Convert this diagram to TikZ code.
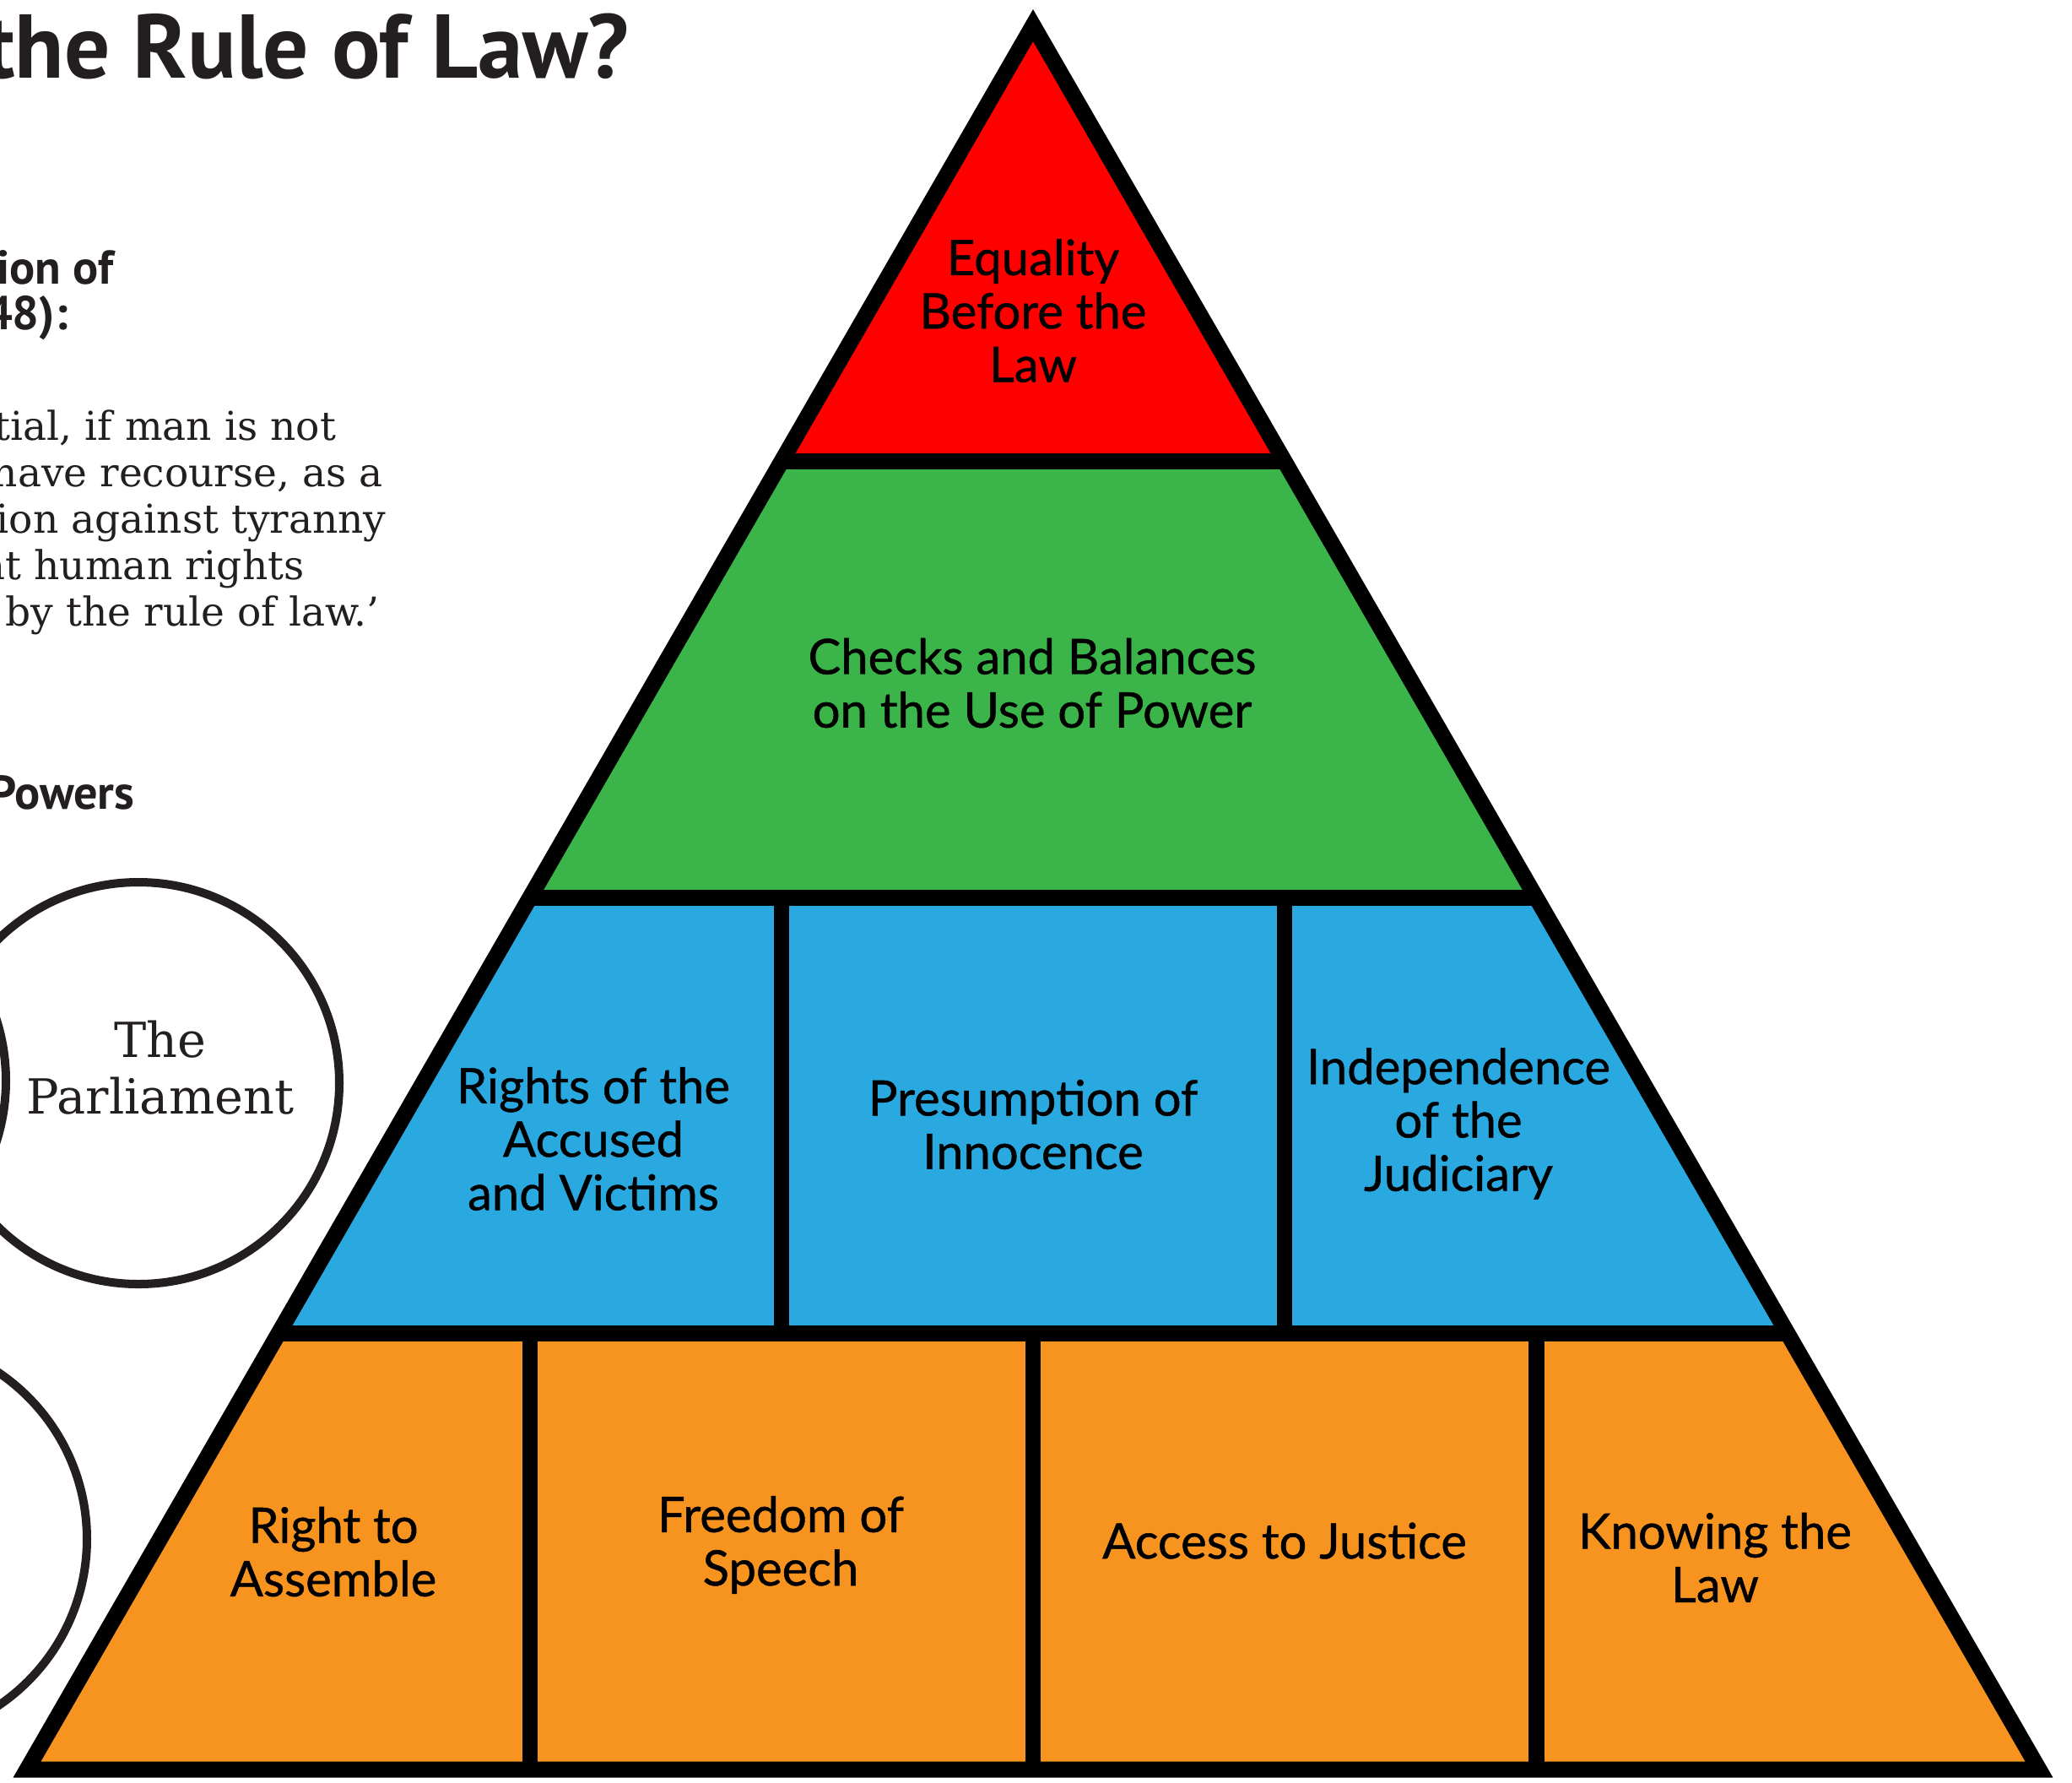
\documentclass[tikz,border=0pt]{standalone}
\usepackage{fontspec}
\setmainfont{Lato}[FakeBold=0.8]
\newfontfamily\quotefont{DejaVu Serif}
\newfontfamily\headfont{PT Sans}
\usetikzlibrary{calc}

\definecolor{lawred}{HTML}{FF0000}
\definecolor{lawgreen}{HTML}{3BB54A}
\definecolor{lawblue}{HTML}{29A9E0}
\definecolor{laworange}{HTML}{F7941F}
\definecolor{inkgrey}{HTML}{231F20}

\begin{document}
\begin{tikzpicture}[
		tierline/.style={draw=black, line width=5.4pt, line join=miter},
		tiertext/.style={align=center, text=black, font=\fontsize{16.5}{18}\selectfont},
		headtext/.style={anchor=base east, inner sep=0pt, text=inkgrey, font=\headfont\bfseries\fontsize{16}{19}\selectfont},
		quotetext/.style={anchor=base west, inner sep=0pt, text=inkgrey, font=\quotefont\fontsize{13.4}{15.6}\selectfont},
		powerring/.style={draw=inkgrey, line width=2.85pt}
	]
		\pgfmathsetmacro{\apexx}{12.24}
		\pgfmathsetmacro{\apexy}{-0.30}
		\pgfmathsetmacro{\tierheight}{5.165}
		\pgfmathsetmacro{\spread}{11.92 / 20.66}
		
		\useasboundingbox (0,0) rectangle (24.55,-21.12);
		\clip (0,0) rectangle (24.55,-21.12);
		
		% separation of powers rings, cut by the page edge
		\draw[powerring] (1.64, -12.83) circle (2.38);
		\draw[powerring] (-2.31, -12.80) circle (2.38);
		\draw[powerring] (-1.35, -18.23) circle (2.38);
		\node[align=center, text=inkgrey, font=\quotefont\fontsize{16.3}{19}\selectfont] (parliament) at (1.90, -12.65) {The\\Parliament};
		
		% headings and quote
		\node[headtext, font=\headfont\bfseries\fontsize{30.5}{34}\selectfont] (title) at (7.46, -0.92) {the Rule of Law?};
		\node[headtext] (declaration) at (1.35, -3.36) {ion of};
		\node[headtext] (year) at (0.81, -3.90) {48):};
		\node[headtext] (powers) at (1.60, -9.58) {Powers};
		\foreach \ybase/\xstart/\quoteline[count=\n] in {-5.21/-0.07/tial{,} if man is not, -5.76/-0.10/have recourse{,} as a, -6.31/-0.05/ion against tyranny, -6.86/-0.22/at human rights, -7.41/0.06/by the rule of law.’}
			\node[quotetext] (quote\n) at (\xstart, \ybase) {\quoteline};
		
		% pyramid tiers
		\coordinate (apex) at (\apexx, \apexy);
		\foreach \i/\col in {0/lawred, 1/lawgreen, 2/lawblue, 3/laworange}
		{
			\pgfmathsetmacro{\topy}{\apexy - \i * \tierheight}
			\pgfmathsetmacro{\boty}{\topy - \tierheight}
			\pgfmathsetmacro{\tophalf}{\i * \tierheight * \spread}
			\pgfmathsetmacro{\bothalf}{(\i + 1) * \tierheight * \spread}
			\fill[\col] 
				(\apexx - \tophalf, \topy) -- 
				(\apexx + \tophalf, \topy) -- 
				(\apexx + \bothalf, \boty) coordinate (right\i) --
				(\apexx - \bothalf, \boty) coordinate (left\i) --
				cycle;
		}
		\foreach \k in {1, 2}
			\draw[tierline] ($(left2)!\k/3!(right2)$) coordinate (bluecut\k) -- (bluecut\k |- left1);
		\foreach \k in {1, 2, 3}
			\draw[tierline] ($(left3)!\k/4!(right3)$) coordinate (orangecut\k) -- (orangecut\k |- left2);
		\foreach \i in {0, 1, 2}
			\draw[tierline] (left\i) -- (right\i);
		\draw[tierline] (apex) -- (left3) -- (right3) -- cycle;
		
		% tier labels
		\node[tiertext] (equality) at (12.24, -3.68) {Equality\\Before the\\Law};
		\node[tiertext] (checks) at (12.23, -8.09) {Checks and Balances\\on the Use of Power};
		\node[tiertext] (accused) at (7.03, -13.49) {Rights of the\\Accused\\and Victims};
		\node[tiertext] (presumption) at (12.24, -13.32) {Presumption of\\Innocence};
		\node[tiertext] (judiciary) at (17.28, -13.31) {Independence\\of the\\Judiciary};
		\node[tiertext] (assemble) at (3.95, -18.38) {Right to\\Assemble};
		\node[tiertext] (speech) at (9.25, -18.30) {Freedom of\\Speech};
		\node[tiertext] (justice) at (15.22, -18.25) {Access to Justice};
		\node[tiertext] (knowing) at (20.32, -18.45) {Knowing the\\Law};
	\end{tikzpicture}
\end{document}
